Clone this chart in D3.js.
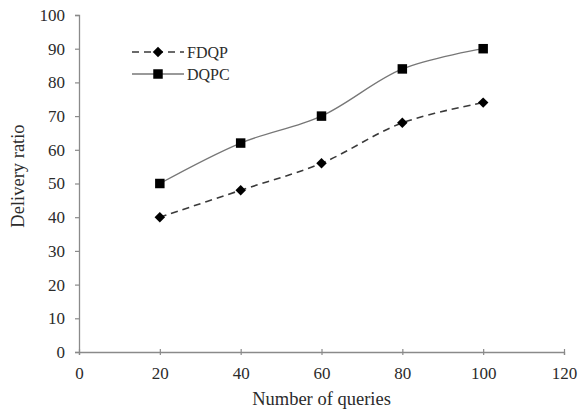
<!DOCTYPE html>
<html>
<head>
<meta charset="utf-8" />
<title>Delivery ratio</title>
<style type="text/css">
body{
	margin:0;
	background:#fff;
}
text{
	font-family:"Liberation Serif","Times New Roman",serif;
	fill:#2b2b2b;
}
</style>
<script src="https://d3js.org/d3.v7.min.js"></script>
</head>
<body>
<div id="chart"></div>
<script>
	// data
	var queries = [20, 40, 60, 80, 100];
	var fdqp = [40, 48, 56, 68, 74];
	var dqpc = [50, 62, 70, 84, 90];
	var xTicks = [0, 20, 40, 60, 80, 100, 120];
	var yTicks = [0, 10, 20, 30, 40, 50, 60, 70, 80, 90, 100];

	var width = 582;
	var height = 416;
	var mLeft = 79, mRight = 564, mTop = 15, mBottom = 352;

	// canvas
	var SVG = d3.select("#chart")
				.append("svg")
				.attr("width", width)
				.attr("height", height);

	var x = d3.scaleLinear().domain([0, 120]).range([mLeft, mRight]);
	var y = d3.scaleLinear().domain([0, 100]).range([mBottom, mTop]);

	// y axis
	var yAxis = SVG.append("g")
		.attr("transform", "translate(" + mLeft + ",0)")
		.call(d3.axisLeft(y).tickValues(yTicks).tickSize(4).tickPadding(10));
	// x axis
	var xAxis = SVG.append("g")
		.attr("transform", "translate(0," + mBottom + ")")
		.call(d3.axisBottom(x).tickValues(xTicks).tickSize(3).tickPadding(12));
	xAxis.selectAll(".tick line").attr("y1", -3);

	[xAxis, yAxis].forEach(function(a){
		a.select(".domain").attr("stroke", "#8a8a8a").attr("stroke-width", 1.3);
		a.selectAll(".tick line").attr("stroke", "#8a8a8a").attr("stroke-width", 1.2);
		a.selectAll(".tick text")
			.attr("fill", "#2b2b2b")
			.style("font-family", "'Liberation Serif', serif")
			.style("font-size", "17px");
	});

	// axis titles
	SVG.append("text")
		.attr("x", (mLeft + mRight) / 2)
		.attr("y", 405)
		.attr("text-anchor", "middle")
		.attr("font-size", 18.5)
		.text("Number of queries");
	SVG.append("text")
		.attr("transform", "translate(24,176) rotate(-90)")
		.attr("text-anchor", "middle")
		.attr("font-size", 18.5)
		.text("Delivery ratio");

	// lines
	var line = d3.line()
		.x(function(d, i){ return x(queries[i]); })
		.y(function(d){ return y(d); })
		.curve(d3.curveCatmullRom.alpha(0.5));

	SVG.append("path")
		.attr("d", line(dqpc))
		.attr("fill", "none")
		.attr("stroke", "#777")
		.attr("stroke-width", 1.3);
	SVG.append("path")
		.attr("d", line(fdqp))
		.attr("fill", "none")
		.attr("stroke", "#3a3a3a")
		.attr("stroke-width", 1.6)
		.attr("stroke-dasharray", "7,5");

	// markers: square, and a square turned 45 degrees for the diamond
	var square = d3.symbol().type(d3.symbolSquare).size(90);
	var diamond = d3.symbol().type(d3.symbolSquare).size(55);

	SVG.selectAll(".sq")
		.data(dqpc)
		.enter()
		.append("path")
		.attr("d", square)
		.attr("transform", function(d, i){ return "translate(" + x(queries[i]) + "," + y(d) + ")"; })
		.attr("fill", "#000");
	SVG.selectAll(".dm")
		.data(fdqp)
		.enter()
		.append("path")
		.attr("d", diamond)
		.attr("transform", function(d, i){ return "translate(" + x(queries[i]) + "," + y(d) + ") rotate(45)"; })
		.attr("fill", "#000");

	// legend
	var legend = [
		{name:"FDQP", dash:"7,5", color:"#3a3a3a", sym:diamond, rot:45, w:1.6},
		{name:"DQPC", dash:null, color:"#777", sym:square, rot:0, w:1.3}
	];
	legend.forEach(function(l, i){
		var ly = 52 + i * 22;
		SVG.append("line")
			.attr("x1", 132)
			.attr("y1", ly)
			.attr("x2", 184)
			.attr("y2", ly)
			.attr("stroke", l.color)
			.attr("stroke-width", l.w)
			.attr("stroke-dasharray", l.dash);
		SVG.append("path")
			.attr("d", l.sym)
			.attr("transform", "translate(158," + ly + ") rotate(" + l.rot + ")")
			.attr("fill", "#000");
		SVG.append("text")
			.attr("x", 187)
			.attr("y", ly + 6)
			.attr("font-size", 16)
			.text(l.name);
	});
</script>
</body>
</html>
